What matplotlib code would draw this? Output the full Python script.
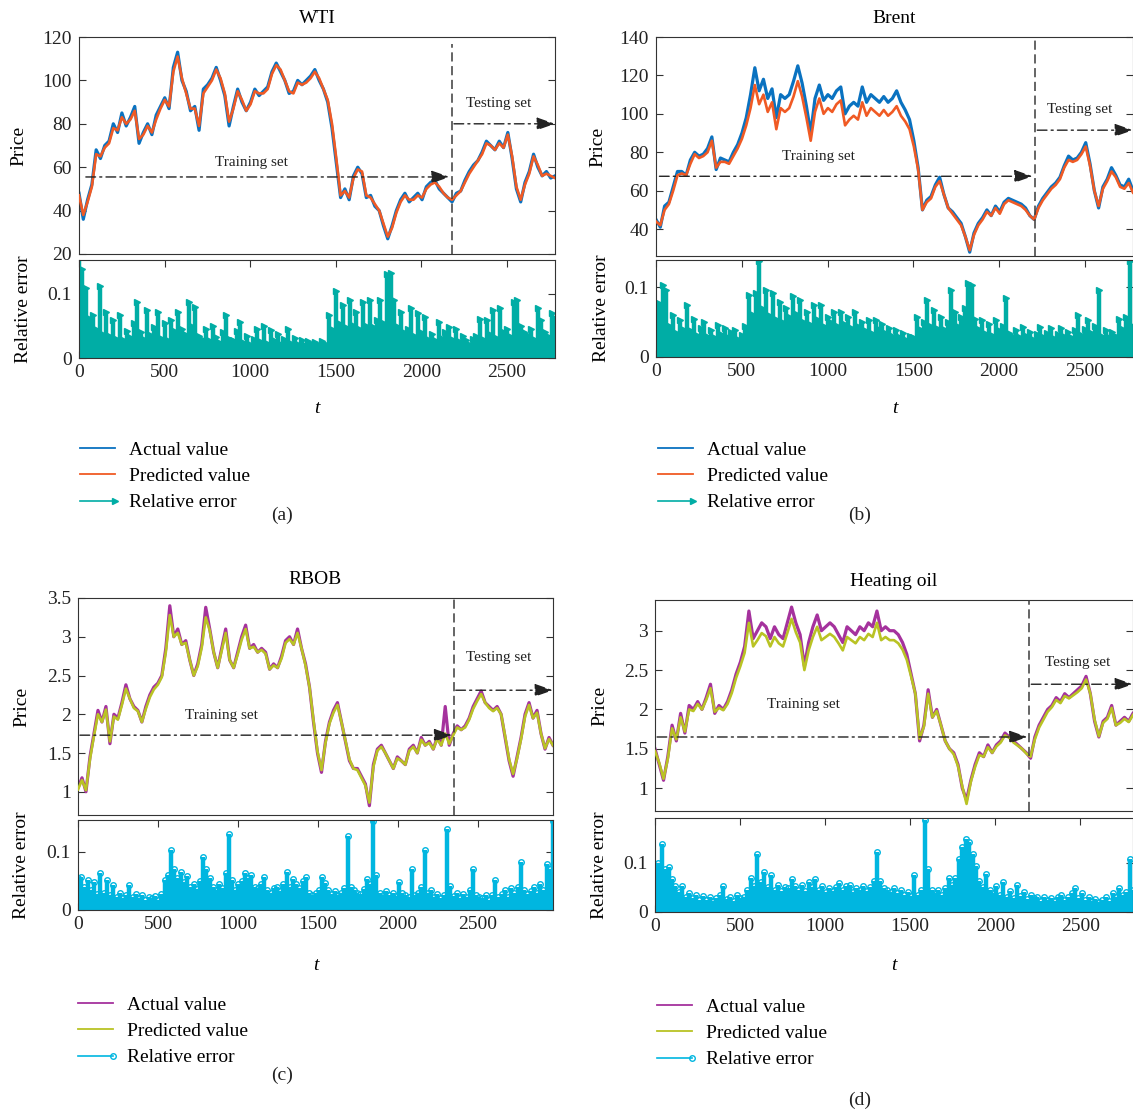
import numpy as np
import matplotlib
matplotlib.use("Agg")
import matplotlib.pyplot as plt
from matplotlib.lines import Line2D
from matplotlib.legend_handler import HandlerBase
from matplotlib.ticker import FuncFormatter

plt.rcParams['font.family'] = ['Liberation Serif', 'DejaVu Serif']
plt.rcParams['font.size'] = 14

# ---------------- data ----------------
titles = ["WTI", "Brent", "RBOB", "Heating oil"]
panel_tags = ["(a)", "(b)", "(c)", "(d)"]
series_len = [2780, 2780, 2970, 2810]   # last sample index of each series
split_at = [2180, 2210, 2350, 2200]     # start of the testing set

wti_actual = [48, 36, 45, 52, 68, 64, 70, 72, 80, 76,
              85, 79, 83, 88, 71, 76, 80, 75, 84, 88,
              92, 87, 106, 113, 100, 95, 86, 88, 77, 96,
              98, 101, 106, 100, 93, 79, 88, 96, 90, 86,
              90, 96, 93, 95, 97, 104, 108, 104, 100, 94,
              95, 100, 98, 100, 102, 105, 100, 96, 90, 78,
              62, 46, 50, 45, 56, 60, 57, 46, 47, 42,
              40, 33, 27, 33, 40, 45, 48, 44, 46, 48,
              45, 51, 53, 54, 50, 48, 46, 44, 48, 49,
              54, 58, 61, 63, 67, 72, 70, 68, 72, 69,
              76, 64, 50, 44, 53, 58, 66, 60, 56, 58,
              55, 56]
wti_pred = [47, 38, 44, 51, 66, 65, 69, 71, 78, 77,
            83, 80, 82, 86, 73, 75, 79, 76, 82, 87,
            91, 88, 104, 111, 101, 94, 87, 87, 79, 94,
            97, 100, 105, 101, 94, 81, 87, 95, 91, 86,
            89, 95, 94, 94, 96, 103, 107, 105, 100, 95,
            94, 99, 98, 99, 101, 104, 101, 96, 91, 80,
            64, 47, 49, 46, 55, 59, 58, 47, 46, 43,
            40, 34, 28, 32, 39, 44, 47, 45, 45, 47,
            46, 50, 52, 53, 51, 48, 46, 45, 47, 49,
            53, 57, 60, 63, 66, 71, 70, 68, 71, 69,
            75, 65, 51, 45, 52, 57, 65, 61, 56, 57,
            56, 55]

brent_actual = [45, 41, 52, 54, 62, 70, 70, 68, 76, 80,
                78, 79, 82, 88, 71, 77, 76, 75, 80, 84,
                90, 98, 110, 124, 112, 118, 108, 113, 98, 110,
                108, 110, 117, 125, 116, 104, 90, 108, 115, 107,
                110, 108, 112, 114, 100, 104, 106, 104, 114, 106,
                110, 108, 106, 109, 106, 108, 112, 106, 102, 97,
                86, 72, 50, 55, 57, 63, 67, 58, 51, 49,
                46, 43, 36, 28, 38, 43, 46, 50, 47, 52,
                49, 54, 56, 55, 54, 53, 51, 47, 45, 52,
                56, 59, 62, 64, 67, 73, 78, 76, 77, 80,
                85, 74, 60, 51, 62, 66, 72, 68, 63, 62,
                66, 60]
brent_pred = [44, 42, 50, 53, 60, 68, 69, 68, 74, 79,
              77, 78, 80, 86, 72, 75, 75, 74, 78, 82,
              87, 94, 103, 115, 105, 110, 101, 106, 92, 103,
              101, 103, 109, 117, 109, 98, 86, 101, 108, 100,
              103, 101, 105, 107, 94, 97, 99, 97, 106, 99,
              103, 101, 99, 102, 99, 101, 104, 99, 96, 92,
              83, 71, 50, 54, 56, 62, 65, 58, 51, 48,
              45, 42, 36, 29, 37, 42, 45, 49, 47, 51,
              48, 53, 55, 54, 53, 52, 50, 47, 45, 51,
              55, 58, 61, 63, 66, 72, 76, 75, 76, 79,
              83, 73, 60, 52, 61, 65, 70, 67, 62, 61,
              64, 59]

rbob_actual = [1.05, 1.18, 1.0, 1.45, 1.75, 2.05, 1.9, 2.1, 1.62, 2.0,
               1.95, 2.15, 2.38, 2.2, 2.1, 2.05, 1.9, 2.1, 2.25, 2.35,
               2.4, 2.5, 2.85, 3.4, 3.0, 3.1, 2.9, 2.95, 2.7, 2.5,
               2.65, 2.9, 3.38, 3.1, 2.8, 2.6, 2.85, 3.1, 2.7, 2.6,
               2.8, 3.0, 3.15, 2.85, 2.9, 2.8, 2.85, 2.8, 2.58, 2.65,
               2.6, 2.75, 2.95, 3.0, 2.9, 3.1, 2.85, 2.65, 2.35, 1.9,
               1.5, 1.25, 1.65, 1.9, 2.05, 2.15, 1.9, 1.65, 1.4, 1.3,
               1.3, 1.2, 1.1, 0.82, 1.35, 1.55, 1.6, 1.5, 1.4, 1.3,
               1.45, 1.4, 1.35, 1.55, 1.6, 1.5, 1.7, 1.6, 1.65, 1.55,
               1.7, 1.6, 2.1, 1.6, 1.75, 1.85, 1.8, 1.85, 1.95, 2.1,
               2.2, 2.3, 2.15, 2.1, 2.05, 2.1, 2.0, 1.7, 1.4, 1.2,
               1.45, 1.7, 2.0, 2.15, 1.95, 2.05, 1.75, 1.55, 1.7, 1.6]
rbob_pred = [1.03, 1.15, 1.02, 1.42, 1.72, 2.0, 1.9, 2.06, 1.65, 1.97,
             1.93, 2.12, 2.33, 2.2, 2.08, 2.04, 1.9, 2.07, 2.22, 2.32,
             2.38, 2.48, 2.8, 3.28, 3.0, 3.05, 2.9, 2.92, 2.7, 2.5,
             2.62, 2.86, 3.25, 3.08, 2.8, 2.6, 2.82, 3.05, 2.7, 2.6,
             2.77, 2.96, 3.1, 2.85, 2.87, 2.8, 2.83, 2.78, 2.58, 2.63,
             2.6, 2.72, 2.92, 2.97, 2.9, 3.05, 2.85, 2.63, 2.35, 1.92,
             1.52, 1.28, 1.63, 1.88, 2.02, 2.12, 1.9, 1.66, 1.42, 1.3,
             1.28, 1.18, 1.08, 0.86, 1.32, 1.53, 1.58, 1.5, 1.4, 1.3,
             1.43, 1.4, 1.35, 1.53, 1.58, 1.5, 1.67, 1.6, 1.63, 1.55,
             1.68, 1.6, 1.75, 1.62, 1.73, 1.83, 1.8, 1.83, 1.93, 2.07,
             2.17, 2.26, 2.15, 2.08, 2.04, 2.08, 2.0, 1.72, 1.42, 1.23,
             1.43, 1.68, 1.97, 2.12, 1.95, 2.02, 1.75, 1.56, 1.68, 1.6]

heat_actual = [1.5, 1.3, 1.1, 1.4, 1.8, 1.6, 1.95, 1.7, 2.05, 2.0,
               2.1, 2.0, 2.15, 2.32, 1.95, 2.05, 2.0, 2.1, 2.25, 2.45,
               2.6, 2.8, 3.25, 2.9, 3.0, 3.1, 3.05, 2.9, 3.05, 2.95,
               2.9, 3.1, 3.3, 3.1, 2.95, 2.55, 2.85, 3.05, 3.2, 3.0,
               3.05, 3.1, 3.05, 2.95, 2.85, 3.05, 3.0, 2.95, 3.05, 3.0,
               3.1, 3.05, 3.25, 3.0, 3.05, 3.0, 3.0, 2.95, 2.85, 2.7,
               2.45, 2.2, 1.6, 1.8, 2.25, 1.9, 2.0, 1.8, 1.6, 1.5,
               1.45, 1.3, 1.0, 0.85, 1.1, 1.3, 1.45, 1.4, 1.55, 1.45,
               1.55, 1.6, 1.7, 1.65, 1.6, 1.55, 1.5, 1.45, 1.38, 1.65,
               1.8, 1.9, 2.0, 2.05, 2.15, 2.1, 2.2, 2.15, 2.2, 2.25,
               2.3, 2.42, 2.2, 1.85, 1.65, 1.85, 1.9, 2.05, 1.8, 1.85,
               1.9, 1.85, 1.95]
heat_pred = [1.47, 1.32, 1.12, 1.37, 1.76, 1.62, 1.9, 1.72, 2.0, 1.98,
             2.07, 2.0, 2.12, 2.27, 1.97, 2.02, 1.99, 2.07, 2.21, 2.4,
             2.55, 2.72, 3.1, 2.8, 2.88, 2.97, 2.93, 2.8, 2.92, 2.84,
             2.8, 2.97, 3.15, 2.98, 2.85, 2.5, 2.75, 2.92, 3.05, 2.88,
             2.92, 2.96, 2.92, 2.84, 2.75, 2.92, 2.88, 2.84, 2.92, 2.88,
             2.96, 2.92, 3.1, 2.88, 2.92, 2.88, 2.88, 2.84, 2.76, 2.63,
             2.42, 2.2, 1.63, 1.78, 2.2, 1.9, 1.98, 1.8, 1.6, 1.5,
             1.43, 1.28, 1.02, 0.8, 1.08, 1.27, 1.42, 1.4, 1.52, 1.45,
             1.53, 1.58, 1.67, 1.64, 1.58, 1.54, 1.5, 1.44, 1.4, 1.62,
             1.77, 1.87, 1.97, 2.03, 2.12, 2.08, 2.17, 2.14, 2.18, 2.22,
             2.27, 2.38, 2.2, 1.87, 1.66, 1.83, 1.88, 2.02, 1.8, 1.83,
             1.88, 1.84, 1.93]

# relative errors, in thousandths
wti_err_permille = [158, 139, 110, 62, 67, 45, 112, 38, 72, 35,
                    60, 30, 67, 28, 42, 33, 55, 88, 40, 30,
                    75, 36, 48, 72, 32, 55, 28, 60, 42, 72,
                    45, 38, 88, 50, 80, 35, 30, 45, 28, 50,
                    33, 25, 40, 67, 30, 28, 42, 56, 25, 35,
                    22, 30, 45, 26, 50, 24, 43, 28, 37, 22,
                    30, 45, 24, 32, 22, 28, 20, 27, 22, 25,
                    20, 26, 22, 67, 45, 104, 55, 83, 48, 90,
                    52, 72, 45, 88, 50, 90, 48, 60, 90, 55,
                    131, 133, 90, 50, 72, 40, 45, 78, 35, 70,
                    40, 64, 30, 38, 28, 56, 32, 40, 48, 30,
                    45, 26, 35, 28, 22, 30, 35, 61, 30, 59,
                    38, 75, 32, 78, 40, 45, 35, 88, 90, 50,
                    40, 36, 45, 30, 78, 59, 40, 35, 70, 62]
brent_err_permille = [40, 77, 103, 96, 45, 60, 35, 53, 40, 75,
                      38, 55, 32, 42, 50, 30, 38, 28, 46, 33,
                      41, 28, 36, 38, 26, 31, 45, 89, 62, 91,
                      137, 70, 96, 60, 91, 55, 79, 50, 70, 58,
                      87, 62, 82, 50, 65, 48, 75, 55, 75, 45,
                      58, 50, 65, 44, 65, 48, 58, 42, 65, 45,
                      50, 38, 53, 35, 53, 40, 48, 34, 42, 30,
                      38, 28, 35, 25, 30, 29, 58, 40, 50, 82,
                      45, 67, 42, 58, 40, 50, 96, 65, 45, 58,
                      70, 106, 103, 55, 40, 53, 35, 48, 32, 53,
                      38, 45, 84, 35, 30, 38, 28, 43, 30, 36,
                      26, 33, 43, 28, 35, 41, 27, 33, 41, 30,
                      36, 28, 38, 60, 32, 40, 53, 35, 45, 96,
                      30, 38, 28, 36, 30, 55, 40, 58, 137, 45]
rbob_err_permille = [55, 57, 40, 52, 35, 49, 28, 63, 30, 51,
                     25, 43, 22, 30, 20, 26, 43, 22, 28, 20,
                     25, 18, 22, 20, 24, 18, 28, 51, 60, 104,
                     71, 55, 66, 48, 58, 40, 45, 36, 50, 91,
                     71, 55, 40, 35, 45, 38, 64, 131, 51, 35,
                     45, 50, 63, 55, 60, 40, 38, 45, 57, 35,
                     30, 38, 40, 33, 45, 66, 40, 54, 45, 38,
                     50, 57, 30, 26, 30, 35, 57, 46, 35, 28,
                     32, 25, 30, 38, 127, 40, 34, 30, 28, 36,
                     54, 45, 153, 60, 30, 26, 32, 25, 30, 24,
                     49, 30, 26, 22, 70, 25, 30, 40, 103, 30,
                     34, 22, 28, 20, 25, 139, 41, 24, 30, 20,
                     28, 22, 35, 70, 26, 22, 20, 26, 18, 25,
                     51, 22, 28, 35, 22, 38, 30, 40, 83, 35,
                     28, 32, 40, 30, 45, 35, 80, 71, 154]
heat_err_permille = [83, 100, 138, 86, 90, 66, 52, 40, 52, 30,
                     38, 28, 35, 25, 32, 24, 30, 22, 28, 35,
                     52, 26, 30, 22, 34, 28, 30, 45, 69, 52,
                     117, 60, 81, 50, 74, 45, 55, 42, 50, 48,
                     66, 52, 45, 55, 42, 60, 50, 66, 45, 52,
                     40, 48, 42, 50, 59, 45, 52, 55, 40, 48,
                     45, 52, 42, 50, 62, 122, 63, 48, 45, 40,
                     48, 38, 45, 35, 40, 32, 74, 35, 45, 186,
                     86, 45, 38, 45, 35, 48, 69, 55, 69, 107,
                     131, 148, 141, 117, 93, 62, 50, 76, 45, 38,
                     52, 35, 60, 30, 42, 28, 55, 32, 41, 26,
                     35, 28, 31, 22, 30, 25, 28, 22, 30, 35,
                     25, 30, 38, 48, 28, 38, 24, 30, 22, 26,
                     20, 25, 30, 22, 38, 30, 48, 35, 40, 108,
                     45]

price_yticks = [[20, 40, 60, 80, 100, 120], [40, 60, 80, 100, 120, 140],
                [1, 1.5, 2, 2.5, 3, 3.5], [1, 1.5, 2, 2.5, 3]]
price_ylim = [(20, 120), (26, 140), (0.7, 3.5), (0.71, 3.39)]
err_ylim = [(0, 0.153), (0, 0.139), (0, 0.155), (0, 0.19)]
err_xticks = [0, 500, 1000, 1500, 2000, 2500]

# arrow heights and label positions for training / testing annotations
train_arrow = [(40, 2165, 55.5), (20, 2195, 67.5), (12, 2340, 1.73), (12, 2190, 1.65)]
test_arrow = [(2190, 2780, 80), (2222, 2780, 91.5), (2362, 2970, 2.31), (2212, 2810, 2.32)]
train_label = [(1010, 62), (944, 78), (894, 1.98), (870, 2.06)]
test_label = [(2453, 89.5), (2471, 102), (2631, 2.73), (2482, 2.6)]

actual_list = [wti_actual, brent_actual, rbob_actual, heat_actual]
pred_list = [wti_pred, brent_pred, rbob_pred, heat_pred]
err_list = [wti_err_permille, brent_err_permille, rbob_err_permille, heat_err_permille]

# ---------------- styling ----------------
BLUE, ORANGE, TEAL = '#0a72c0', '#f05a24', '#00ada5'
PURPLE, OLIVE, CYAN = '#a5329d', '#b9c324', '#00b6e0'
line_colors = [(BLUE, ORANGE, TEAL), (BLUE, ORANGE, TEAL),
               (PURPLE, OLIVE, CYAN), (PURPLE, OLIVE, CYAN)]
err_markers = ['>', '>', 'o', 'o']
SPINE = '#333333'

W, H = 1133, 1113
fig = plt.figure(figsize=(W / 100, H / 100), dpi=100)


def box(left, top, right, bottom):
    return [left / W, 1 - bottom / H, (right - left) / W, (bottom - top) / H]


price_boxes = [box(79, 37, 555, 254), box(656, 37, 1133, 256),
               box(78, 598, 553, 815), box(655, 600, 1133, 811)]
err_boxes = [box(79, 260, 555, 358), box(656, 260, 1133, 357),
             box(78, 820, 553, 910), box(655, 818, 1133, 912)]
ylabel_x = [(-0.109, -0.099), (-0.105, -0.096), (-0.101, -0.101), (-0.098, -0.098)]
xlabel_y = [-0.43, -0.44, -0.52, -0.48]
legend_anchor = [(80, 441), (658, 441), (78, 996), (657, 998)]
tag_pos = [(282, 515), (860, 515), (282, 1075), (860, 1100)]
vline_top = [0.97, 1.0, 1.0, 1.0]

fmt = FuncFormatter(lambda v, p: '%g' % v)


class StemHandler(HandlerBase):
    """Legend key for stem series: a line with the marker at its right end."""
    def create_artists(self, legend, orig_handle, xdescent, ydescent,
                       width, height, fontsize, trans):
        y = height / 2.0 - ydescent
        x0, x1 = -xdescent, width - xdescent
        line = Line2D([x0, x1], [y, y], color=orig_handle.get_color(), lw=1.2)
        mark = Line2D([x1], [y], linestyle='none',
                      marker=orig_handle.get_marker(),
                      markersize=orig_handle.get_markersize(),
                      markerfacecolor=orig_handle.get_markerfacecolor(),
                      markeredgecolor=orig_handle.get_markeredgecolor(),
                      markeredgewidth=1.0)
        line.set_transform(trans)
        mark.set_transform(trans)
        return [line, mark]


def style_axes(ax):
    for s in ax.spines.values():
        s.set_color(SPINE)
        s.set_linewidth(0.8)
    ax.tick_params(direction='in', length=5, width=0.8, color=SPINE,
                   labelsize=14, pad=5, labelcolor='#222222')


for i in range(4):
    c_act, c_pred, c_err = line_colors[i]
    n_end = series_len[i]

    # price panel
    axp = fig.add_axes(price_boxes[i])
    style_axes(axp)
    xa = np.linspace(0, n_end, len(actual_list[i]))
    axp.plot(xa, actual_list[i], color=c_act, lw=2.3, zorder=2)
    axp.plot(xa, pred_list[i], color=c_pred, lw=1.9, zorder=3)
    axp.set_xlim(0, n_end)
    axp.set_ylim(*price_ylim[i])
    axp.set_yticks(price_yticks[i])
    axp.yaxis.set_major_formatter(fmt)
    axp.tick_params(axis='x', bottom=False, labelbottom=False)
    axp.tick_params(axis='y', left=True, right=True)
    axp.set_title(titles[i], fontsize=14, pad=10)
    axp.set_ylabel('Price', fontsize=14)
    axp.yaxis.set_label_coords(ylabel_x[i][0], 0.5)

    axp.axvline(split_at[i], ymin=0, ymax=vline_top[i], color='#3a3a3a',
                lw=1.1, ls=(0, (6, 3)), zorder=4)
    arrow_kw = dict(arrowstyle='-|>,head_length=0.8,head_width=0.28',
                    color='#222222', lw=1.0, linestyle=(0, (7, 3, 1.5, 3)),
                    shrinkA=0, shrinkB=0)
    x0, x1, yv = train_arrow[i]
    axp.annotate('', xy=(x1, yv), xytext=(x0, yv), arrowprops=arrow_kw, zorder=5)
    x0, x1, yv = test_arrow[i]
    axp.annotate('', xy=(x1, yv), xytext=(x0, yv), arrowprops=arrow_kw,
                 zorder=5, annotation_clip=False)
    axp.text(*train_label[i], 'Training set', fontsize=11, ha='center',
             va='center', color='#222222')
    axp.text(*test_label[i], 'Testing set', fontsize=11, ha='center',
             va='center', color='#222222')

    # relative error panel
    axe = fig.add_axes(err_boxes[i])
    style_axes(axe)
    err = np.array(err_list[i]) / 1000.0
    xe = np.linspace(0, n_end, len(err))
    mk = err_markers[i]
    markerline, stemlines, baseline = axe.stem(xe, err, basefmt=' ')
    stemlines.set_color(c_err)
    stemlines.set_linewidth(3.2)
    if mk == '>':
        markerline.set(marker='>', color=c_err, markersize=4,
                       markerfacecolor=c_err, markeredgecolor=c_err)
    else:
        markerline.set(marker='o', color=c_err, markersize=4,
                       markerfacecolor='none', markeredgecolor=c_err,
                       markeredgewidth=1.0)
    axe.set_xlim(0, n_end)
    axe.set_ylim(*err_ylim[i])
    axe.set_xticks(err_xticks)
    axe.set_yticks([0, 0.1])
    axe.yaxis.set_major_formatter(fmt)
    axe.tick_params(axis='x', top=True, bottom=True, pad=4)
    axe.tick_params(axis='y', left=True, right=True)
    axe.set_ylabel('Relative error', fontsize=14)
    axe.yaxis.set_label_coords(ylabel_x[i][1], 0.5)
    axe.set_xlabel('t', fontsize=14, fontstyle='italic')
    axe.xaxis.set_label_coords(0.5, xlabel_y[i])

    # legend below the pair of axes
    h_act = Line2D([], [], color=c_act, lw=1.3)
    h_pred = Line2D([], [], color=c_pred, lw=1.3)
    if mk == '>':
        h_err = Line2D([], [], color=c_err, marker='>', markersize=4,
                       markerfacecolor=c_err, markeredgecolor=c_err)
    else:
        h_err = Line2D([], [], color=c_err, marker='o', markersize=4,
                       markerfacecolor='none', markeredgecolor=c_err)
    lx, ly = legend_anchor[i]
    fig.legend([h_act, h_pred, h_err],
               ['Actual value', 'Predicted value', 'Relative error'],
               loc='upper left', bbox_to_anchor=(lx / W, 1 - ly / H),
               frameon=False, fontsize=14, borderpad=0, borderaxespad=0,
               handlelength=1.8, handletextpad=0.7, labelspacing=0.45,
               handler_map={h_err: StemHandler()})

    tx, ty = tag_pos[i]
    fig.text(tx / W, 1 - ty / H, panel_tags[i], fontsize=14, ha='center',
             va='center', color='#222222')

fig.savefig('out.png', dpi=100)
